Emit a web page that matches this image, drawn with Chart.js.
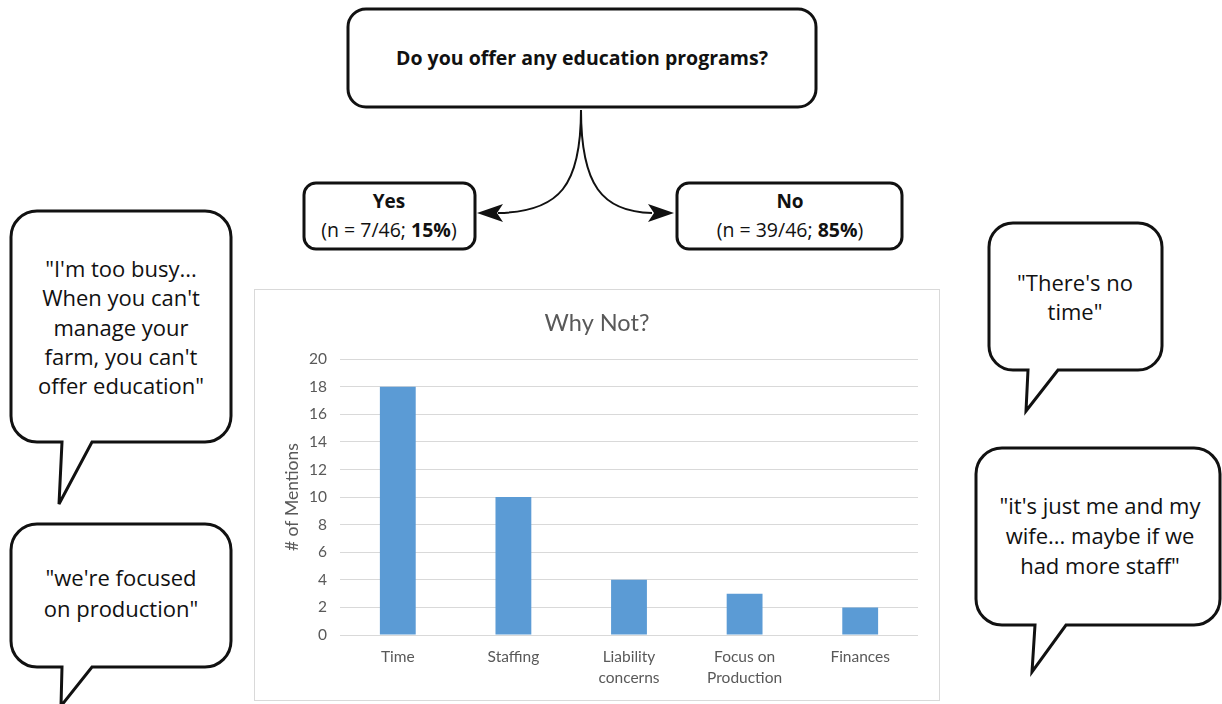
<!DOCTYPE html>
<html>
<head>
<meta charset="utf-8">
<script src="https://cdn.jsdelivr.net/npm/chart.js@4/dist/chart.umd.min.js"></script>
<style>
  html, body { margin: 0; padding: 0; background: #fff; }
  body { width: 1222px; height: 704px; position: relative; overflow: hidden; font-family: "Open Sans", sans-serif; }
  #diagram { position: absolute; left: 0; top: 0; }
  #chartBox { position: absolute; left: 254px; top: 289px; width: 686px; height: 412px; border: 1px solid #d9d9d9; box-sizing: border-box; background: #fff; }
  #chartBox canvas { display: block; }
  svg text { font-family: "Open Sans", sans-serif; fill: #111; }
</style>
</head>
<body>
<svg id="diagram" width="1222" height="704" xmlns="http://www.w3.org/2000/svg"></svg>
<div id="chartBox"><canvas id="c"></canvas></div>
<script>
// ---- data ----
const categories = [["Time"], ["Staffing"], ["Liability", "concerns"], ["Focus on", "Production"], ["Finances"]];
const mentions = [18, 10, 4, 3, 2];
const yTicks = [0, 2, 4, 6, 8, 10, 12, 14, 16, 18, 20];
const chartTitle = "Why Not?";
const yAxisTitle = "# of Mentions";
const question = "Do you offer any education programs?";
const answers = [
  { label: "Yes", n: "(n = 7/46; ", pct: "15%" },
  { label: "No", n: "(n = 39/46; ", pct: "85%" }
];
const quotes = [
  ["\"I'm too busy...", "When you can't", "manage your", "farm, you can't", "offer education\""],
  ["\"we're focused", "on production\""],
  ["\"There's no", "time\""],
  ["\"it's just me and my", "wife... maybe if we", "had more staff\""]
];

// ---- diagram (SVG) ----
const svg = document.getElementById('diagram');
const NS = 'http://www.w3.org/2000/svg';
function el(tag, attrs, parent) {
  const e = document.createElementNS(NS, tag);
  for (const k in attrs) e.setAttribute(k, attrs[k]);
  (parent || svg).appendChild(e);
  return e;
}
function roundRect(x, y, w, h, r) {
  el('rect', { x, y, width: w, height: h, rx: r, ry: r, fill: '#fff', stroke: '#111', 'stroke-width': 3 });
}
function bubble(x, y, w, h, r, t1, t2, px, py) {
  const b = y + h, R = x + w;
  const d = `M ${x + r} ${y} H ${R - r} A ${r} ${r} 0 0 1 ${R} ${y + r} V ${b - r} A ${r} ${r} 0 0 1 ${R - r} ${b} ` +
    `H ${t2} L ${px} ${py} L ${t1} ${b} H ${x + r} A ${r} ${r} 0 0 1 ${x} ${b - r} V ${y + r} A ${r} ${r} 0 0 1 ${x + r} ${y} Z`;
  el('path', { d, fill: '#fff', stroke: '#111', 'stroke-width': 3, 'stroke-linejoin': 'miter' });
}
function lines(arr, cx, y0, lh, size, weight) {
  arr.forEach((s, i) => {
    const t = el('text', { x: cx, y: y0 + i * lh, 'text-anchor': 'middle', 'dominant-baseline': 'central', 'font-size': size, 'font-weight': weight || 400 });
    t.textContent = s;
  });
}

// question box
roundRect(348, 9, 468, 98, 18);
lines([question], 582, 57, 0, 19.5, 700);

// answer boxes
const ansBoxes = [{ x: 304, w: 171, cx: 389 }, { x: 677, w: 225, cx: 790 }];
answers.forEach((a, i) => {
  const bx = ansBoxes[i];
  roundRect(bx.x, 183, bx.w, 66, 12);
  lines([a.label], bx.cx, 201, 0, 19, 700);
  const t = el('text', { x: bx.cx, y: 229, 'text-anchor': 'middle', 'dominant-baseline': 'central', 'font-size': 19.5 });
  const s1 = el('tspan', {}, t); s1.textContent = a.n;
  const s2 = el('tspan', { 'font-weight': 700 }, t); s2.textContent = a.pct;
  const s3 = el('tspan', {}, t); s3.textContent = ')';
});

// curved arrows
el('path', { d: 'M 581 110 C 581 185 560 212 498 213', fill: 'none', stroke: '#111', 'stroke-width': 2 });
el('path', { d: 'M 581 110 C 581 185 602 212 652 213', fill: 'none', stroke: '#111', 'stroke-width': 2 });
el('path', { d: 'M 477 213 L 503 204 L 497 213 L 503 222 Z', fill: '#111' });
el('path', { d: 'M 674 213 L 648 204 L 654 213 L 648 222 Z', fill: '#111' });

// speech bubbles
bubble(11, 211, 220, 231, 26, 62, 92, 59, 504);
lines(quotes[0], 121, 268, 29.3, 22);
bubble(11, 524, 220, 143, 26, 62, 92, 61, 706);
lines(quotes[1], 121, 577, 31, 22);
bubble(989, 223, 173, 147, 24, 1028, 1058, 1026, 411);
lines(quotes[2], 1075, 282, 29, 22);
bubble(976, 448, 244, 177, 26, 1035, 1066, 1032, 672);
lines(quotes[3], 1100, 505, 30, 22);

// ---- bar chart ----
const grey = '#595959';
new Chart(document.getElementById('c'), {
  type: 'bar',
  data: {
    labels: categories,
    datasets: [{ data: mentions, backgroundColor: '#5b9bd5', borderWidth: 0, barPercentage: 0.31, categoryPercentage: 1.0, yAxisID: 'y' }]
  },
  options: {
    responsive: true,
    maintainAspectRatio: false,
    animation: false,
    devicePixelRatio: 1,
    layout: { padding: 0 },
    plugins: {
      legend: { display: false },
      tooltip: { enabled: false },
      title: {
        display: true, text: chartTitle, color: grey,
        font: { family: 'Lato', size: 23.5, weight: 'normal', lineHeight: 1.2 },
        padding: { top: 19, bottom: 22 }
      }
    },
    scales: {
      x: {
        grid: { display: false, drawTicks: false },
        border: { display: false },
        ticks: { color: grey, font: { family: 'Lato', size: 15.5, lineHeight: 1.35 }, padding: 12, maxRotation: 0, autoSkip: false },
        afterFit: (s) => { s.height = 65; }
      },
      y: {
        min: 0, max: 20,
        afterBuildTicks: (s) => { s.ticks = yTicks.map(v => ({ value: v })); },
        grid: { color: '#d9d9d9', lineWidth: 1, drawTicks: false },
        border: { display: false },
        ticks: { color: grey, font: { family: 'Lato', size: 15.5 }, padding: 13 },
        title: { display: true, text: yAxisTitle, color: grey, font: { family: 'Lato', size: 17.5, lineHeight: 1.2 }, padding: { top: 27, bottom: 0 } },
        afterFit: (s) => { s.width = 85; }
      },
      yRight: {
        position: 'right', min: 0, max: 20,
        grid: { display: false, drawTicks: false },
        border: { display: false },
        ticks: { display: false },
        afterFit: (s) => { s.width = 21; }
      }
    }
  }
});
</script>
</body>
</html>
